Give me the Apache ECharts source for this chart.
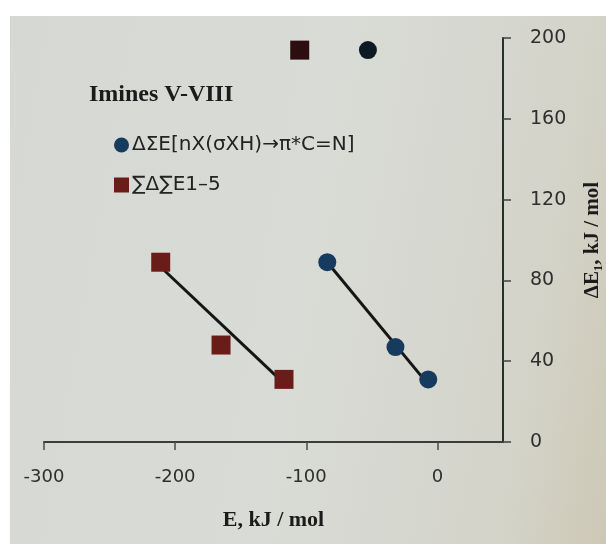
<!DOCTYPE html>
<html>
<head>
<meta charset="utf-8">
<script src="https://cdn.jsdelivr.net/npm/echarts@6/dist/echarts.min.js"></script>
<style>
  html, body { margin: 0; padding: 0; background: #ffffff; }
  #paper { position: absolute; left: 10px; top: 16px; width: 596px; height: 528px;
           background: linear-gradient(100deg, #d6d9d3 0%, #d9dbd6 50%, #d3d3c8 85%, #cdc8b6 100%); }
  #chart { position: absolute; left: 0; top: 0; width: 606px; height: 544px; }
</style>
</head>
<body>
<div id="paper"></div>
<div id="chart"></div>
<script>
// --- data (E, ΔE1 in kJ/mol) ---
const seriesNames = ['ΔΣE[nX(σXH)→π*C=N]', '∑Δ∑E1–5'];
const bluePoints = [[-84, 89], [-32, 47], [-7, 31], [-53, 194]];
const redPoints = [[-211, 89], [-165, 48], [-117, 31], [-105, 194]];
// fitted trend lines (end points)
const blueFit = [[-84, 89], [-9, 30]];
const redFit = [[-210, 86], [-117, 29]];
const xTicks = [-300, -200, -100, 0];

const chart = echarts.init(document.getElementById('chart'), null, { renderer: 'canvas' });

const blue = '#163b5e', blueDark = '#0c1a24';
const red = '#6a1c19', redDark = '#2c0d10';

chart.setOption({
  backgroundColor: 'transparent',
  animation: false,
  title: {
    text: 'Imines V-VIII',
    left: 84, top: 78,
    textStyle: { fontFamily: 'Liberation Serif', fontWeight: 'bold', fontSize: 24, color: '#1b1b1b' }
  },
  legend: {
    orient: 'vertical',
    left: 109, top: 130,
    itemGap: 20,
    itemWidth: 15, itemHeight: 15,
    textStyle: { fontFamily: 'DejaVu Sans', fontSize: 20, color: '#232323', padding: [0, 0, 0, -2] },
    data: [
      { name: seriesNames[0], icon: 'circle', itemStyle: { color: blue } },
      { name: seriesNames[1], icon: 'rect', itemStyle: { color: red } }
    ]
  },
  grid: { left: 44, right: 103, top: 38, bottom: 102, containLabel: false, outerBoundsMode: 'none' },
  xAxis: {
    type: 'value', min: -300, max: 50, interval: 100,
    name: 'E, kJ / mol', nameLocation: 'middle', nameGap: 67,
    nameTextStyle: { fontFamily: 'Liberation Serif', fontWeight: 'bold', fontSize: 22, color: '#1b1b1b' },
    axisLine: { onZero: false, lineStyle: { color: '#3b3d3a', width: 2 } },
    axisTick: { customValues: xTicks, length: 8, lineStyle: { color: '#4a4c48', width: 1.5 } },
    axisLabel: { customValues: xTicks, margin: 26, fontFamily: 'DejaVu Sans', fontSize: 18, color: '#2e2e2e' },
    splitLine: { show: false }
  },
  yAxis: {
    type: 'value', position: 'right', min: 0, max: 200, interval: 40,
    name: 'ΔE₁, kJ / mol', nameLocation: 'middle', nameGap: 79, nameRotate: 90,
    nameTextStyle: { fontFamily: 'Liberation Serif', fontWeight: 'bold', fontSize: 21, color: '#1b1b1b' },
    axisLine: { onZero: false, lineStyle: { color: '#243029', width: 2 } },
    axisTick: { length: 8, lineStyle: { color: '#3a4440', width: 1.5 } },
    axisLabel: { margin: 27, fontFamily: 'DejaVu Sans', fontSize: 19, color: '#2e2e2e' },
    splitLine: { show: false }
  },
  series: [
    {
      name: 'blueFit', type: 'line', data: blueFit, symbol: 'none', z: 3,
      lineStyle: { color: '#151515', width: 3 }
    },
    {
      name: 'redFit', type: 'line', data: redFit, symbol: 'none', z: 3,
      lineStyle: { color: '#151515', width: 3 }
    },
    {
      name: seriesNames[0], type: 'scatter', data: bluePoints, symbol: 'circle', symbolSize: 18, z: 4,
      itemStyle: { opacity: 1, color: p => (p.dataIndex === 3 ? blueDark : blue) }
    },
    {
      name: seriesNames[1], type: 'scatter', data: redPoints, symbol: 'rect', symbolSize: 19, z: 4,
      itemStyle: { opacity: 1, color: p => (p.dataIndex === 3 ? redDark : red) }
    }
  ]
});
</script>
</body>
</html>
